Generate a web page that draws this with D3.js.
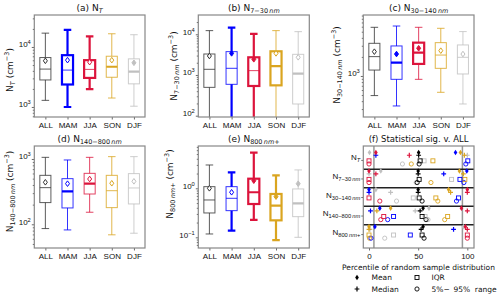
<!DOCTYPE html>
<html>
<head>
<meta charset="utf-8">
<script src="https://cdn.jsdelivr.net/npm/d3@7"></script>
<style>
  body { margin: 0; background: #fff; }
  svg { font-family: "DejaVu Sans", sans-serif; }
  text { white-space: pre; }
</style>
</head>
<body>
<svg id="chart" width="500" height="297"></svg>
<script>
// seasons and their colours
const seasons = ["ALL", "MAM", "JJA", "SON", "DJF"];
const seasonColors = ["#000000", "#0000ff", "#dc143c", "#daa520", "#c0c0c0"];

// box stats per season: [p5, q1, median, q3, p95, mean]  (cm^-3)
const boxNT = [
  [1290, 2820, 4280, 6670, 17000, 5880],
  [1000, 2370, 4120, 7300, 19300, 6030],
  [1980, 3050, 4230, 6030, 15000, 5580],
  [1410, 3130, 4680, 7010, 16600, 6030],
  [1030, 2430, 3870, 6340, 16000, 5450]
];
const boxN7 = [
  [60, 497, 1380, 3280, 12300, 2930],
  [50, 590, 1460, 3750, 14600, 3400],
  [55, 537, 1280, 2720, 10200, 2430],
  [70, 557, 1660, 3820, 12300, 3400],
  [40, 194, 1080, 3220, 11600, 2720]
];
const boxN30 = [
  [490, 1240, 2020, 3280, 5870, 2420],
  [336, 885, 1620, 2980, 6150, 2220],
  [885, 1550, 2340, 3360, 5870, 2740],
  [552, 1320, 2140, 3360, 5660, 2510],
  [361, 1076, 1970, 3090, 5020, 2220]
];
const boxN140 = [
  [86, 215, 364, 562, 1060, 440],
  [82, 178, 320, 500, 966, 419],
  [153, 291, 419, 603, 1060, 494],
  [69, 180, 327, 562, 1086, 425],
  [73, 205, 360, 597, 1086, 455]
];
const boxN800 = [
  [0.117, 0.314, 0.578, 1.08, 2.99, 1.0],
  [0.137, 0.35, 0.625, 1.08, 2.12, 0.83],
  [0.226, 0.478, 0.83, 1.57, 5.35, 1.43],
  [0.088, 0.222, 0.443, 0.766, 1.84, 0.676],
  [0.1, 0.264, 0.494, 0.97, 2.37, 1.24]
];
const boxData = [boxNT, boxN7, boxN30, boxN140, boxN800];

// log10 of the y axis limits of each box panel
const yExtents = [[2.833, 4.533], [1.968, 4.474], [2.352, 3.963], [1.637, 3.199], [-1.218, 0.863]];

const panelTitles = ["(a) N_{T}", "(b) N_{7−30\u2009nm}", "(c) N_{30−140\u2009nm}", "(d) N_{140−800\u2009nm}", "(e) N_{800\u2009nm+}"];
const yLabels = ["N_{T} (cm^{−3})", "N_{7−30\u2009nm} (cm^{−3})", "N_{30−140\u2009nm} (cm^{−3})", "N_{140−800\u2009nm} (cm^{−3})", "N_{800\u2009nm+} (cm^{−3})"];
const sigRows = ["N_{T}", "N_{7−30\u2009nm}", "N_{30−140\u2009nm}", "N_{140−800\u2009nm}", "N_{800\u2009nm+}"];

// percentile of random sample distribution; rows = size ranges, cols = seasons
const pctMean = [
  [50.5, 88, 7, 93, 0.5],
  [50, 99.5, 0, 92, 12],
  [50, 0, 100, 81, 7],
  [55, 11, 94, 22, 61],
  [55, 6, 98, 0, 96]
];
const pctMedian = [
  [50.5, 7, 41, 97, 100],
  [50, 76, 7, 96, 0],
  [50, 0, 100, 83, 22],
  [52, 1.5, 100, 8, 47],
  [53, 86, 100, 0, 1]
];
const pctIQR = [
  [52, 100.5, 0, 65, 56],
  [51, 92.5, 0, 97.5, 84],
  [51, 91, 0, 68, 45],
  [54, 25, 15, 80, 57],
  [54, 42, 100, 0, 25]
];
const pctRange = [
  [51, 98.5, 0, 43, 34],
  [49, 96.5, 0, 63, 48],
  [54, 89, 11, 70, 28],
  [58, 19, 12, 77, 60],
  [56, 2, 100, 0.5, 16]
];
const xTicksPct = [0, 50, 100];

const svg = d3.select("#chart");
const fTick = 8, fTitle = 9, fLabel = 9, fSmall = 7.5;
const thin = 1, thick = 2.2;
const frameColor = "#888";
const sig = p => p < 5 || p > 95;

const panels = [
  { x0: 34.3, x1: 145, y0: 15, y1: 117 },
  { x0: 198.3, x1: 309.3, y0: 15, y1: 117 },
  { x0: 363.3, x1: 474, y0: 15, y1: 117 },
  { x0: 34.3, x1: 145, y0: 146, y1: 248 },
  { x0: 198.3, x1: 309.3, y0: 146, y1: 248 }
];
const sigPanel = { x0: 363.3, x1: 474, y0: 146, y1: 248 };
const labelPos = [[10, 70], [173.5, 66], [337, 65], [9.5, 191.5], [170, 184]];

// turn "N_{7-30 nm}" into tspans with sub/superscripts
function parseRich(str) {
  const out = [];
  const re = /([_^])\{([^}]*)\}/g;
  let last = 0, m;
  while ((m = re.exec(str))) {
    if (m.index > last) out.push({ t: str.slice(last, m.index) });
    const mode = m[1] === "_" ? "sub" : "sup";
    m[2].split(/([A-Za-z]+)/).forEach(s => {
      if (s) out.push({ t: s, mode: mode, it: /^[A-Za-z]+$/.test(s) });
    });
    last = re.lastIndex;
  }
  if (last < str.length) out.push({ t: str.slice(last) });
  return out;
}

function setRich(text, str, size) {
  text.text(null).attr("font-size", size);
  let cur = 0;
  parseRich(str).forEach(p => {
    const off = p.mode === "sub" ? 0.25 * size : p.mode === "sup" ? -0.4 * size : 0;
    const ts = text.append("tspan").text(p.t).attr("dy", off - cur);
    cur = off;
    if (p.mode) ts.attr("font-size", size * 0.72);
    if (p.it) ts.attr("font-style", "italic");
  });
}

function styleAxis(ax) {
  ax.select(".domain").remove();
  ax.selectAll(".tick line").attr("stroke", "#444").attr("stroke-width", 0.8);
  ax.selectAll(".tick text").attr("fill", "#111");
}

function drawBoxPanel(k) {
  const p = panels[k], data = boxData[k];
  const x = d3.scaleLinear().domain([0.5, 5.5]).range([p.x0, p.x1]);
  const y = d3.scaleLog().domain(yExtents[k].map(e => Math.pow(10, e))).range([p.y1, p.y0]);
  const g = svg.append("g");

  svg.append("clipPath").attr("id", "clip" + k)
    .append("rect").attr("x", p.x0).attr("y", p.y0)
    .attr("width", p.x1 - p.x0).attr("height", p.y1 - p.y0);

  // log ticks
  const majors = [], minors = [];
  const lo = Math.floor(yExtents[k][0]), hi = Math.ceil(yExtents[k][1]);
  for (let e = lo; e <= hi; e++) {
    if (e >= yExtents[k][0] && e <= yExtents[k][1]) majors.push(Math.pow(10, e));
    for (let m = 2; m < 10; m++) {
      const v = m * Math.pow(10, e);
      if (Math.log10(v) >= yExtents[k][0] && Math.log10(v) <= yExtents[k][1]) minors.push(v);
    }
  }
  const minorAx = g.append("g").attr("transform", `translate(${p.x0},0)`)
    .call(d3.axisLeft(y).tickValues(minors).tickSize(1.5).tickFormat(() => ""));
  styleAxis(minorAx);
  const majorAx = g.append("g").attr("transform", `translate(${p.x0},0)`)
    .call(d3.axisLeft(y).tickValues(majors).tickSize(2.5).tickPadding(1).tickFormat(() => ""));
  styleAxis(majorAx);
  majorAx.selectAll(".tick text").each(function (d) {
    const e = Math.round(Math.log10(d));
    setRich(d3.select(this), "10^{" + (e < 0 ? "−" + (-e) : e) + "}", fTick);
  });

  const xAx = g.append("g").attr("transform", `translate(0,${p.y1})`)
    .call(d3.axisBottom(x).tickValues([1, 2, 3, 4, 5]).tickSize(2.5).tickPadding(3)
      .tickFormat(i => seasons[i - 1]));
  styleAxis(xAx);
  xAx.selectAll(".tick text").attr("font-size", fTick);

  const plot = g.append("g").attr("clip-path", `url(#clip${k})`);
  const bw = x(1.25) - x(1), cw = x(1.17) - x(1);
  data.forEach((d, i) => {
    const [p5, q1, med, q3, p95, mean] = d;
    const cx = x(i + 1);
    const col = i === 0 ? "#333" : seasonColors[i];
    const lwR = sig(pctRange[k][i]) ? thick : thin;
    const lwI = sig(pctIQR[k][i]) ? thick : thin;
    const lwM = sig(pctMedian[k][i]) ? thick : thin;
    const op = w => (w === thin ? 0.8 : 1);
    const s = plot.append("g").attr("stroke", col).attr("fill", "none");

    [[p5, q1], [q3, p95]].forEach(([a, b]) => {
      s.append("line").attr("x1", cx).attr("x2", cx).attr("y1", y(a)).attr("y2", y(b))
        .attr("stroke-width", lwR).attr("stroke-opacity", op(lwR));
    });
    [p5, p95].forEach(v => {
      s.append("line").attr("x1", cx - cw).attr("x2", cx + cw).attr("y1", y(v)).attr("y2", y(v))
        .attr("stroke-width", lwR).attr("stroke-opacity", op(lwR));
    });
    s.append("rect").attr("x", cx - bw).attr("width", 2 * bw)
      .attr("y", y(q3)).attr("height", y(q1) - y(q3))
      .attr("stroke-width", lwI).attr("stroke-opacity", op(lwI));
    s.append("line").attr("x1", cx - bw).attr("x2", cx + bw).attr("y1", y(med)).attr("y2", y(med))
      .attr("stroke-width", lwM).attr("stroke-opacity", op(lwM));

    const my = y(mean);
    s.append("path")
      .attr("d", `M${cx},${my - 2.8}L${cx + 2},${my}L${cx},${my + 2.8}L${cx - 2},${my}Z`)
      .attr("fill", sig(pctMean[k][i]) ? col : "#fff")
      .attr("stroke-width", 1);
  });

  g.append("rect").attr("x", p.x0).attr("y", p.y0)
    .attr("width", p.x1 - p.x0).attr("height", p.y1 - p.y0)
    .attr("fill", "none").attr("stroke", frameColor).attr("stroke-width", 1.2);

  setRich(g.append("text").attr("x", (p.x0 + p.x1) / 2).attr("y", p.y0 - 4.4)
    .attr("text-anchor", "middle").attr("fill", "#111"), panelTitles[k], fTitle);

  setRich(g.append("text")
    .attr("transform", `translate(${labelPos[k][0]},${labelPos[k][1]}) rotate(-90)`)
    .attr("y", 3).attr("text-anchor", "middle").attr("fill", "#111"), yLabels[k], fLabel);
}

for (let k = 0; k < 5; k++) drawBoxPanel(k);

// (f) significance panel
(function drawSigPanel() {
  const p = sigPanel;
  const x = d3.scaleLinear().domain([-5.8, 106.8]).range([p.x0, p.x1]);
  const y = d3.scaleLinear().domain([-0.75, 4.75]).range([p.y0, p.y1]);
  const g = svg.append("g");

  [5, 95].forEach(v => {
    g.append("line").attr("x1", x(v)).attr("x2", x(v)).attr("y1", p.y0).attr("y2", p.y1)
      .attr("stroke", "#999").attr("stroke-width", 1.5);
  });
  [0.5, 1.5, 2.5, 3.5].forEach(v => {
    g.append("line").attr("x1", p.x0).attr("x2", p.x1).attr("y1", y(v)).attr("y2", y(v))
      .attr("stroke", "#222").attr("stroke-width", 1.5);
  });

  const yAx = g.append("g").attr("transform", `translate(${p.x0},0)`)
    .call(d3.axisLeft(y).tickValues([0, 1, 2, 3, 4]).tickSize(2).tickPadding(1).tickFormat(() => ""));
  styleAxis(yAx);
  yAx.selectAll(".tick text").each(function (d) {
    setRich(d3.select(this), sigRows[d], 8);
  });
  const xAx = g.append("g").attr("transform", `translate(0,${p.y1})`)
    .call(d3.axisBottom(x).tickValues(xTicksPct).tickSize(2.5).tickPadding(3));
  styleAxis(xAx);
  xAx.selectAll(".tick text").attr("font-size", fTick);

  const stats = [
    { vals: pctRange, off: 0.22, kind: "circle" },
    { vals: pctIQR, off: 0.05, kind: "square" },
    { vals: pctMedian, off: -0.25, kind: "plus" },
    { vals: pctMean, off: -0.4, kind: "diamond" }
  ];
  const order = [4, 3, 2, 1, 0];
  const marker = (sel, kind, cx, cy, col) => {
    if (kind === "diamond") {
      sel.append("path").attr("d", `M${cx},${cy - 2.8}L${cx + 1.8},${cy}L${cx},${cy + 2.8}L${cx - 1.8},${cy}Z`)
        .attr("fill", col);
    } else if (kind === "plus") {
      sel.append("path").attr("d", `M${cx - 2.4},${cy}H${cx + 2.4}M${cx},${cy - 2.4}V${cy + 2.4}`)
        .attr("stroke", col).attr("stroke-width", 1.2);
    } else if (kind === "square") {
      sel.append("rect").attr("x", cx - 2).attr("y", cy - 2).attr("width", 4).attr("height", 4)
        .attr("fill", "none").attr("stroke", col).attr("stroke-width", 0.9);
    } else {
      sel.append("circle").attr("cx", cx).attr("cy", cy).attr("r", 2.1)
        .attr("fill", "none").attr("stroke", col).attr("stroke-width", 0.9);
    }
  };
  const mk = g.append("g");
  sigRows.forEach((_, r) => {
    stats.forEach(st => {
      order.forEach(i => {
        marker(mk, st.kind, x(st.vals[r][i]), y(r + st.off), seasonColors[i]);
      });
    });
  });

  g.append("rect").attr("x", p.x0).attr("y", p.y0)
    .attr("width", p.x1 - p.x0).attr("height", p.y1 - p.y0)
    .attr("fill", "none").attr("stroke", frameColor).attr("stroke-width", 1.2);

  g.append("text").attr("x", (p.x0 + p.x1) / 2).attr("y", p.y0 - 4.4)
    .attr("text-anchor", "middle").attr("font-size", 8.5).attr("fill", "#111")
    .text("(f) Statistical sig. v. ALL");
  g.append("text").attr("x", 418.5).attr("y", 269.5)
    .attr("text-anchor", "middle").attr("font-size", fSmall).attr("fill", "#111")
    .text("Percentile of random sample distribution");

  // legend
  const leg = g.append("g");
  const legItems = [
    { kind: "diamond", label: "Mean", x: 357, y: 277.5 },
    { kind: "square", label: "IQR", x: 417, y: 277.5 },
    { kind: "plus", label: "Median", x: 357, y: 289 },
    { kind: "circle", label: "5%\u2212\u200295%  range", x: 417, y: 289 }
  ];
  legItems.forEach(it => {
    marker(leg, it.kind, it.x, it.y, "#000");
    leg.append("text").attr("x", it.x + 14.5).attr("y", it.y + 2.7)
      .attr("font-size", fSmall).attr("fill", "#111").text(it.label);
  });
})();
</script>
</body>
</html>
